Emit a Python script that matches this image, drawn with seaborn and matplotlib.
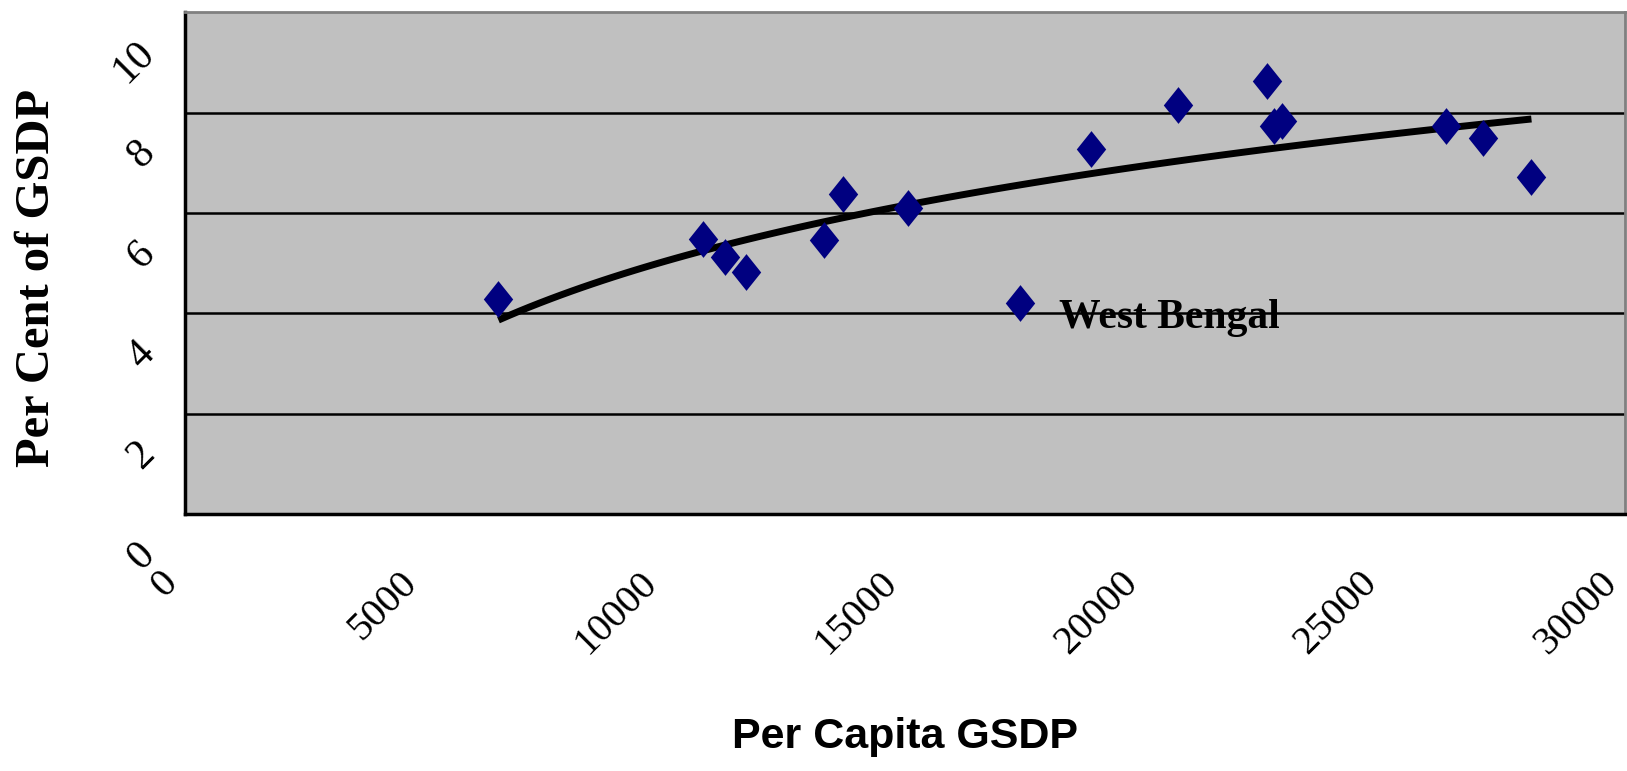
import numpy as np
import pandas as pd
import matplotlib
matplotlib.use("Agg")
import matplotlib.pyplot as plt
import matplotlib.transforms as mtransforms
import seaborn as sns

# Data
per_capita_gsdp = [6530, 10800, 11240, 11690, 13310, 13700, 15060, 17400,
                   18870, 20680, 22540, 22690, 22850, 26260, 27040, 28050]
pct_of_gsdp = [4.29, 5.49, 5.13, 4.82, 5.47, 6.38, 6.11, 4.20,
               7.27, 8.16, 8.63, 7.74, 7.83, 7.74, 7.49, 6.71]
x_ticks = [0, 5000, 10000, 15000, 20000, 25000, 30000]
y_ticks = [0, 2, 4, 6, 8, 10]
highlight_state = "West Bengal"
highlight_idx = 7

df = pd.DataFrame({"gsdp": per_capita_gsdp, "pct": pct_of_gsdp})

sns.set_style("white")
plt.rcParams["font.family"] = ["Liberation Serif", "DejaVu Serif"]
plt.rcParams["text.color"] = "black"
plt.rcParams["axes.labelcolor"] = "black"
plt.rcParams["xtick.color"] = "black"
plt.rcParams["ytick.color"] = "black"

fig = plt.figure(figsize=(16.27, 7.71), dpi=100)
ax = fig.add_axes([0.1137, 0.3333, 0.8851, 0.6505])
ax.set_facecolor("#C0C0C0")

# log trend line (like the spreadsheet's logarithmic trendline)
sns.regplot(data=df, x="gsdp", y="pct", logx=True, ci=None, scatter=False,
            line_kws={"color": "black", "linewidth": 5, "solid_capstyle": "butt"}, ax=ax)

diamond = [(0, 1), (0.8, 0), (0, -1), (-0.8, 0), (0, 1)]
sns.scatterplot(data=df, x="gsdp", y="pct", marker=diamond, s=700,
                color="#000080", edgecolor="#000080", linewidth=0, zorder=4, ax=ax)

ax.text(per_capita_gsdp[highlight_idx] + 800, pct_of_gsdp[highlight_idx] - 0.3,
        highlight_state, fontsize=30, fontweight="bold", va="center", ha="left",
        color="black", family=["Liberation Serif"])

ax.set_xlim(0, 30000)
ax.set_ylim(0, 10)
ax.set_xticks(x_ticks)
ax.set_yticks(y_ticks)
ax.set_xticklabels([str(v) for v in x_ticks], rotation=45, ha="right", va="top",
                   fontsize=29)
ax.set_yticklabels([str(v) for v in y_ticks], rotation=45, ha="right", va="top",
                   fontsize=30)
ax.tick_params(axis="x", direction="out", length=14, width=1.5, color="black", pad=22)
ax.tick_params(axis="y", direction="out", length=14, width=1.5, color="black", pad=14)

# shift y tick labels down/right like the original
offset = mtransforms.ScaledTranslation(16 / 100, -21 / 100, fig.dpi_scale_trans)
for lbl in ax.get_yticklabels():
    lbl.set_transform(lbl.get_transform() + offset)

for v in y_ticks[1:-1]:
    ax.axhline(v, color="black", linewidth=1.8, zorder=1)

for side in ["top", "right"]:
    ax.spines[side].set_color("#808080")
    ax.spines[side].set_linewidth(2)
for side in ["left", "bottom"]:
    ax.spines[side].set_color("black")
    ax.spines[side].set_linewidth(2.5)

ax.set_xlabel("Per Capita GSDP", fontsize=31, fontweight="bold",
              family=["Liberation Sans"], labelpad=40)
ax.set_ylabel("Per Cent of GSDP", fontsize=35, fontweight="bold")
ax.yaxis.label.set_verticalalignment("center")
ax.yaxis.set_label_coords(-0.103, 0.47)

fig.savefig("out.png", dpi=100)
